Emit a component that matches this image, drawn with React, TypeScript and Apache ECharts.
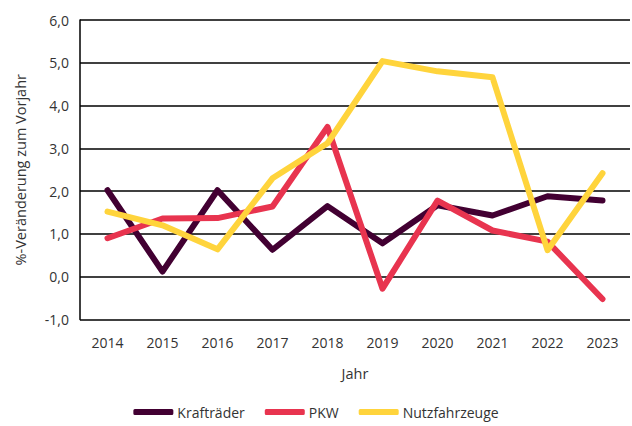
import React, { useEffect, useRef } from "react";
import * as echarts from "echarts";

const years = ["2014", "2015", "2016", "2017", "2018", "2019", "2020", "2021", "2022", "2023"];
const kraftraeder = [2.02, 0.12, 2.02, 0.63, 1.65, 0.78, 1.67, 1.43, 1.88, 1.78];
const pkw = [0.9, 1.36, 1.37, 1.64, 3.5, -0.28, 1.78, 1.08, 0.82, -0.52];
const nutzfahrzeuge = [1.52, 1.2, 0.64, 2.3, 3.12, 5.04, 4.8, 4.66, 0.62, 2.42];
const seriesNames = ["Krafträder", "PKW", "Nutzfahrzeuge"];
const colors = ["#420032", "#e8344f", "#ffd43c"];

const FONT = "'Open Sans', 'Liberation Sans', sans-serif";

export default function App() {
  const ref = useRef<HTMLDivElement>(null);
  useEffect(() => {
    const chart = echarts.init(ref.current!, undefined, { renderer: "svg" });
    const data = [kraftraeder, pkw, nutzfahrzeuge];
    chart.setOption({
      animation: false,
      textStyle: { fontFamily: FONT },
      grid: { left: 80, right: 2, top: 20, bottom: 106.5, containLabel: false },
      legend: {
        bottom: 2,
        left: "center",
        itemWidth: 40,
        itemHeight: 6,
        itemGap: 20,
        textStyle: { fontSize: 14, color: "#333", fontFamily: FONT, padding: [0, 0, 0, -1] },
        data: seriesNames.map((n) => ({ name: n, icon: "roundRect" })),
      },
      xAxis: {
        type: "category",
        data: years,
        boundaryGap: true,
        name: "Jahr",
        nameLocation: "middle",
        nameGap: 46,
        nameTextStyle: { fontSize: 14.5, color: "#333" },
        axisLine: { show: false },
        axisTick: { show: false },
        axisLabel: { fontSize: 14, color: "#333", margin: 16 },
      },
      yAxis: {
        type: "value",
        min: -1,
        max: 6,
        interval: 1,
        name: "%-Veränderung zum Vorjahr",
        nameLocation: "middle",
        nameGap: 52,
        nameTextStyle: { fontSize: 14.5, color: "#333" },
        axisLine: { show: true, lineStyle: { color: "#000", width: 1.5 } },
        axisTick: { show: false },
        axisLabel: {
          fontSize: 14,
          color: "#333",
          margin: 11,
          formatter: (v: number) => v.toFixed(1).replace(".", ","),
        },
        splitLine: { show: true, lineStyle: { color: "#000", width: 1.5 } },
      },
      series: data.map((d, i) => ({
        name: seriesNames[i],
        type: "line",
        data: d,
        symbol: "none",
        color: colors[i],
        lineStyle: { width: 6, color: colors[i], cap: "round", join: "round" },
      })),
    });
    return () => chart.dispose();
  }, []);
  return <div ref={ref} style={{ width: 632, height: 426, position: "absolute", left: 0, top: 0 }} />;
}
